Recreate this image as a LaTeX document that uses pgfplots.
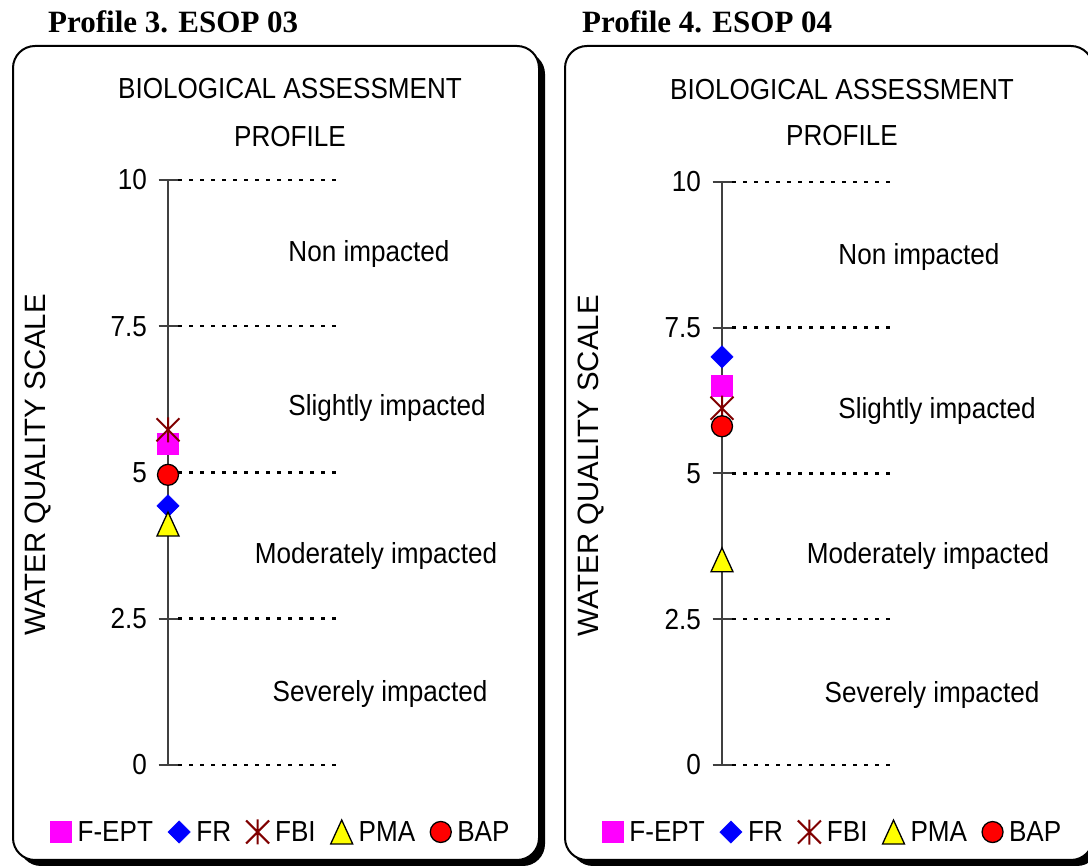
\documentclass[border=0pt]{standalone}
\usepackage{pgfplots}
\pgfplotsset{compat=1.18}
\usepackage{fontspec}
\setmainfont{Liberation Sans}
\newfontfamily\cfam[FakeStretch=0.9]{Liberation Sans}
\newfontfamily\serifb{Liberation Serif}
\newcommand\cf{\cfam\fontsize{29}{32}\selectfont}
\newcommand\yl{\fontsize{29.4}{32}\selectfont}
\definecolor{fept}{RGB}{255,0,255}
\definecolor{fr}{RGB}{0,0,255}
\definecolor{fbi}{RGB}{128,0,0}
\definecolor{pma}{RGB}{255,255,0}
\definecolor{bap}{RGB}{255,0,0}
\definecolor{axgray}{RGB}{64,64,64}

\pgfdeclareplotmark{xstar}{%
  \pgfpathmoveto{\pgfpoint{0pt}{-\pgfplotmarksize}}%
  \pgfpathlineto{\pgfpoint{0pt}{\pgfplotmarksize}}%
  \pgfpathmoveto{\pgfpoint{-.92\pgfplotmarksize}{-.92\pgfplotmarksize}}%
  \pgfpathlineto{\pgfpoint{.92\pgfplotmarksize}{.92\pgfplotmarksize}}%
  \pgfpathmoveto{\pgfpoint{-.92\pgfplotmarksize}{.92\pgfplotmarksize}}%
  \pgfpathlineto{\pgfpoint{.92\pgfplotmarksize}{-.92\pgfplotmarksize}}%
  \pgfusepathqstroke}
\pgfdeclareplotmark{tri}{%
  \pgfpathmoveto{\pgfpoint{0pt}{1.09\pgfplotmarksize}}%
  \pgfpathlineto{\pgfpoint{\pgfplotmarksize}{-1.09\pgfplotmarksize}}%
  \pgfpathlineto{\pgfpoint{-\pgfplotmarksize}{-1.09\pgfplotmarksize}}%
  \pgfpathclose
  \pgfusepathqfillstroke}

\pgfplotsset{
  panel/.style={
    scale only axis, width=440pt, xmin=-60, xmax=380, ymin=0, ymax=10,
    axis x line=none, axis y line=middle,
    y axis line style={-, draw=axgray, line width=2pt},
    ytick={0,2.5,5,7.5,10}, yticklabels={0,2.5,5,7.5,10},
    tick align=center, major tick length=19pt,
    ytick style={draw=axgray, line width=2pt},
    yticklabel style={font=\cf, text=black, xshift=-8pt},
    /pgf/number format/assume math mode=true,
    clip=false,
    legend columns=5,
    legend style={draw=none, fill=none, font=\cf, anchor=center, inner sep=0pt,
      nodes={inner xsep=0pt, inner ysep=0pt},
      /tikz/every odd column/.append style={column sep=6pt},
      /tikz/every even column/.append style={column sep=15pt}},
  },
  mk/.style={only marks, legend image code/.code={\draw[##1] plot coordinates {(0pt,0pt)};}},
  sFEPT/.style={mk, mark=square*, mark size=10.5pt, color=fept},
  sFR/.style={mk, mark=square*, mark size=7.9pt, color=fr, mark options={rotate=45}},
  sFBI/.style={mk, mark=xstar, mark size=12.5pt, color=fbi, mark options={line width=2pt}},
  sPMA/.style={mk, mark=tri, mark size=11pt, draw=black, fill=pma, mark options={line width=1.3pt, draw=black, fill=pma}},
  sBAP/.style={mk, mark=*, mark size=10.5pt, draw=black, fill=bap, mark options={line width=1.3pt, draw=black, fill=bap}},
  dots/.style={black, line width=2.5pt, dash pattern=on 4pt off 7pt, forget plot},
}

\begin{document}
\begin{tikzpicture}[x=1pt,y=1pt]
\useasboundingbox (0pt,0pt) rectangle (1088pt,867pt);
% panel boxes
\fill[black, rounded corners=22pt] (19pt,1pt) rectangle (545pt,815pt);
\draw[black, line width=2pt, fill=white, rounded corners=22pt] (13pt,7pt) rectangle (539pt,821pt);
\fill[black, rounded corners=22pt] (571pt,1pt) rectangle (1099pt,815pt);
\draw[black, line width=2pt, fill=white, rounded corners=22pt] (565pt,7pt) rectangle (1093pt,821pt);
\node[anchor=base west, font=\serifb\bfseries\fontsize{31}{34}\selectfont, inner sep=0pt] at (48pt,834pt) {Profile 3. ESOP 03};
\node[anchor=base west, font=\serifb\bfseries\fontsize{31}{34}\selectfont, inner sep=0pt] at (582pt,834pt) {Profile 4. ESOP 04};

% ---------- left panel ----------
\begin{axis}[panel, height=585pt, at={(108pt,102pt)}, anchor=south west,
  legend style={at={(0.391,-0.1145)}}]
\addplot[dots] coordinates {(10,0) (172,0)};
\addplot[dots] coordinates {(10,2.5) (172,2.5)};
\addplot[dots] coordinates {(10,5) (172,5)};
\addplot[dots] coordinates {(10,7.5) (172,7.5)};
\addplot[dots] coordinates {(10,10) (172,10)};
\addplot[sFEPT] coordinates {(0,5.5)};
\addlegendentry{F-EPT}
\addplot[sFR] coordinates {(0,4.43)};
\addlegendentry{FR}
\addplot[sFBI] coordinates {(0,5.73)};
\addlegendentry{FBI}
\addplot[sPMA] coordinates {(0,4.12)};
\addlegendentry{PMA}
\addplot[sBAP] coordinates {(0,4.96)};
\addlegendentry{BAP}
\node[anchor=base, font=\cf, inner sep=0pt] at (axis cs:122,11.385) {BIOLOGICAL ASSESSMENT};
\node[anchor=base, font=\cf, inner sep=0pt] at (axis cs:122,10.58) {PROFILE};
\node[anchor=base, font=\cf, inner sep=0pt] at (axis cs:201,8.60) {Non impacted};
\node[anchor=base, font=\cf, inner sep=0pt] at (axis cs:219,5.97) {Slightly impacted};
\node[anchor=base, font=\cf, inner sep=0pt] at (axis cs:208,3.45) {Moderately impacted};
\node[anchor=base, font=\cf, inner sep=0pt] at (axis cs:212,1.08) {Severely impacted};
\node[rotate=90, font=\yl, inner sep=0pt] at (axis cs:-130,5.13) {WATER QUALITY SCALE};
\end{axis}

% ---------- right panel ----------
\begin{axis}[panel, height=583pt, at={(662pt,102pt)}, anchor=south west,
  legend style={at={(0.386,-0.115)}}]
\addplot[dots] coordinates {(10,0) (171,0)};
\addplot[dots] coordinates {(10,2.5) (171,2.5)};
\addplot[dots] coordinates {(10,5) (171,5)};
\addplot[dots] coordinates {(10,7.5) (171,7.5)};
\addplot[dots] coordinates {(10,10) (171,10)};
\addplot[sFEPT] coordinates {(0,6.5)};
\addlegendentry{F-EPT}
\addplot[sFR] coordinates {(0,7.0)};
\addlegendentry{FR}
\addplot[sFBI] coordinates {(0,6.12)};
\addlegendentry{FBI}
\addplot[sPMA] coordinates {(0,3.52)};
\addlegendentry{PMA}
\addplot[sBAP] coordinates {(0,5.81)};
\addlegendentry{BAP}
\node[anchor=base, font=\cf, inner sep=0pt] at (axis cs:120,11.42) {BIOLOGICAL ASSESSMENT};
\node[anchor=base, font=\cf, inner sep=0pt] at (axis cs:120,10.62) {PROFILE};
\node[anchor=base, font=\cf, inner sep=0pt] at (axis cs:197,8.59) {Non impacted};
\node[anchor=base, font=\cf, inner sep=0pt] at (axis cs:215,5.95) {Slightly impacted};
\node[anchor=base, font=\cf, inner sep=0pt] at (axis cs:206,3.46) {Moderately impacted};
\node[anchor=base, font=\cf, inner sep=0pt] at (axis cs:210,1.08) {Severely impacted};
\node[rotate=90, font=\yl, inner sep=0pt] at (axis cs:-131,5.13) {WATER QUALITY SCALE};
\end{axis}
\end{tikzpicture}
\end{document}
